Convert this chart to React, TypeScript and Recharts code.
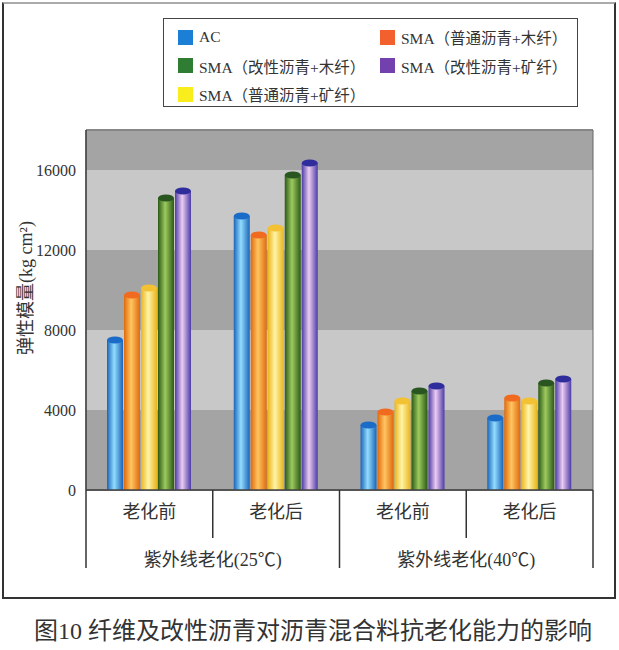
import React from 'react';
import { BarChart, Bar, XAxis, YAxis, CartesianGrid, ReferenceArea, Legend } from 'recharts';

// categories: ageing stage under two UV conditions
const stages = ['老化前', '老化后', '老化前', '老化后'];
const conditions = ['紫外线老化(25℃)', '紫外线老化(25℃)', '紫外线老化(40℃)', '紫外线老化(40℃)'];

// 弹性模量 (kg/cm²)
const acValues = [7500, 13700, 3250, 3600];
const smaNormalWood = [9750, 12750, 3900, 4600];
const smaNormalMineral = [10100, 13100, 4450, 4450];
const smaModifiedWood = [14600, 15750, 4950, 5350];
const smaModifiedMineral = [14950, 16350, 5200, 5550];

const yTicks = [0, 4000, 8000, 12000, 16000];
const yMax = 18000;

const FONT = "'Liberation Serif', 'Noto Sans CJK SC', serif";

const series = [
  { key: 'ac', name: 'AC', legend: '#1c7fd6', edge: '#1b64b8', mid: '#92dcff', cap: '#1a6cc8' },
  { key: 'normalWood', name: 'SMA（普通沥青+木纤）', legend: '#f2602e', edge: '#e06a0c', mid: '#ffc562', cap: '#f06a20' },
  { key: 'normalMineral', name: 'SMA（普通沥青+矿纤）', legend: '#f9ee1c', edge: '#e9b41c', mid: '#fff4a6', cap: '#f2c234' },
  { key: 'modifiedWood', name: 'SMA（改性沥青+木纤）', legend: '#2f7d32', edge: '#2b5a16', mid: '#9dca5e', cap: '#285520' },
  { key: 'modifiedMineral', name: 'SMA（改性沥青+矿纤）', legend: '#7341ad', edge: '#4c3ca6', mid: '#ecccf2', cap: '#2f2c9c' },
];

const legendOrder = ['ac', 'normalWood', 'modifiedWood', 'modifiedMineral', 'normalMineral'];

const rows = stages.map((stage, i) => ({
  stage,
  condition: conditions[i],
  ac: acValues[i],
  normalWood: smaNormalWood[i],
  normalMineral: smaNormalMineral[i],
  modifiedWood: smaModifiedWood[i],
  modifiedMineral: smaModifiedMineral[i],
}));

const bands = yTicks.map((t, i) => ({ y1: t, y2: i < yTicks.length - 1 ? yTicks[i + 1] : yMax }));

function Cylinder(props: any) {
  const { x, y, width, height, gradientId, capColor } = props;
  if (!height || height <= 0) return null;
  const ry = 3.5;
  return (
    <g>
      <rect x={x} y={y} width={width} height={height} fill={`url(#${gradientId})`} />
      <ellipse cx={x + width / 2} cy={y} rx={width / 2} ry={ry} fill={capColor} />
    </g>
  );
}

function StageTick(props: any) {
  const { x, y, payload, index, visibleTicksCount, width } = props;
  const band = width / visibleTicksCount;
  const left = x - band / 2;
  const groupStart = index % 2 === 0;
  const last = index === visibleTicksCount - 1;
  return (
    <g>
      <text x={x} y={y + 28} textAnchor="middle" fontSize={18} fill="#333" fontFamily={FONT}>
        {payload.value}
      </text>
      <line x1={left} y1={y} x2={left} y2={y + (groupStart ? 78 : 48)} stroke="#333" strokeWidth={1.5} />
      {last && <line x1={x + band / 2} y1={y} x2={x + band / 2} y2={y + 78} stroke="#333" strokeWidth={1.5} />}
      {groupStart && (
        <text x={x + band / 2} y={y + 76} textAnchor="middle" fontSize={18} fill="#333" fontFamily={FONT}>
          {conditions[index]}
        </text>
      )}
    </g>
  );
}

function LegendBox(props: any) {
  const payload = props.payload || [];
  const items = legendOrder
    .map((k) => payload.find((p: any) => p.dataKey === k))
    .filter(Boolean);
  return (
    <div
      style={{
        boxSizing: 'border-box',
        width: 415,
        height: 89,
        border: '1.5px solid #444',
        padding: '8px 0 0 14px',
        display: 'grid',
        gridTemplateColumns: '202px 1fr',
        rowGap: 7,
        fontFamily: FONT,
        fontSize: 15.5,
        color: '#333',
        background: '#fff',
      }}
    >
      {items.map((it: any) => (
        <div key={it.dataKey} style={{ display: 'flex', alignItems: 'center', height: 20 }}>
          <span style={{ width: 15, height: 15, background: it.color, marginRight: 6, display: 'inline-block' }} />
          <span>{it.value}</span>
        </div>
      ))}
    </div>
  );
}

export default function App() {
  return (
    <div
      style={{
        position: 'absolute',
        left: 0,
        top: 0,
        width: 619,
        height: 650,
        background: '#fff',
        fontFamily: FONT,
      }}
    >
      <div
        style={{
          position: 'absolute',
          left: 2,
          top: 2,
          width: 614,
          height: 597,
          boxSizing: 'border-box',
          border: '2px solid #333',
          borderTopColor: '#aaa',
        }}
      />
      <div style={{ position: 'absolute', left: 0, top: 0 }}>
        <BarChart
          width={619}
          height={600}
          data={rows}
          margin={{ top: 130, right: 26, left: 26, bottom: 30 }}
          barSize={16}
          barGap={1}
        >
          <defs>
            {series.map((s) => (
              <linearGradient key={s.key} id={`grad-${s.key}`} x1="0" y1="0" x2="1" y2="0">
                <stop offset="0%" stopColor={s.edge} />
                <stop offset="45%" stopColor={s.mid} />
                <stop offset="100%" stopColor={s.edge} />
              </linearGradient>
            ))}
          </defs>
          {bands.map((b, i) => (
            <ReferenceArea
              key={i}
              y1={b.y1}
              y2={b.y2}
              fill={i % 2 === 0 ? '#a4a4a4' : '#c8c8c8'}
              fillOpacity={1}
              stroke="none"
              ifOverflow="extendDomain"
            />
          ))}
          <CartesianGrid vertical={false} stroke="#555" strokeWidth={1.2} />
          <ReferenceArea y1={0} y2={yMax} fill="none" stroke="#666" strokeWidth={1} />
          <XAxis
            dataKey="stage"
            interval={0}
            tickLine={false}
            tickSize={0}
            tickMargin={0}
            height={80}
            axisLine={{ stroke: '#444', strokeWidth: 1.5 }}
            tick={<StageTick />}
          />
          <YAxis
            width={60}
            domain={[0, yMax]}
            ticks={yTicks}
            tickLine={false}
            tickMargin={4}
            axisLine={{ stroke: '#444', strokeWidth: 1.5 }}
            tick={{ fill: '#333', fontSize: 16, fontFamily: FONT }}
            label={({ viewBox }: any) => (
              <text
                transform={`translate(${viewBox.x + 6}, ${viewBox.y + viewBox.height / 2 - 22}) rotate(-90)`}
                textAnchor="middle"
                fontSize={18}
                fill="#333"
                fontFamily={FONT}
              >
                弹性模量(kg cm²)
              </text>
            )}
          />
          <Legend
            layout="vertical"
            align="center"
            verticalAlign="middle"
            content={<LegendBox />}
            wrapperStyle={{ position: 'absolute', left: 163, top: 18, width: 415, height: 89 }}
          />
          {series.map((s) => (
            <Bar
              key={s.key}
              dataKey={s.key}
              name={s.name}
              fill={s.legend}
              isAnimationActive={false}
              shape={(p: any) => <Cylinder {...p} gradientId={`grad-${s.key}`} capColor={s.cap} />}
            />
          ))}
        </BarChart>
      </div>
      <div
        style={{
          position: 'absolute',
          left: 34,
          top: 615,
          fontSize: 24,
          color: '#333',
          whiteSpace: 'nowrap',
          lineHeight: '32px',
        }}
      >
        图10 纤维及改性沥青对沥青混合料抗老化能力的影响
      </div>
    </div>
  );
}
